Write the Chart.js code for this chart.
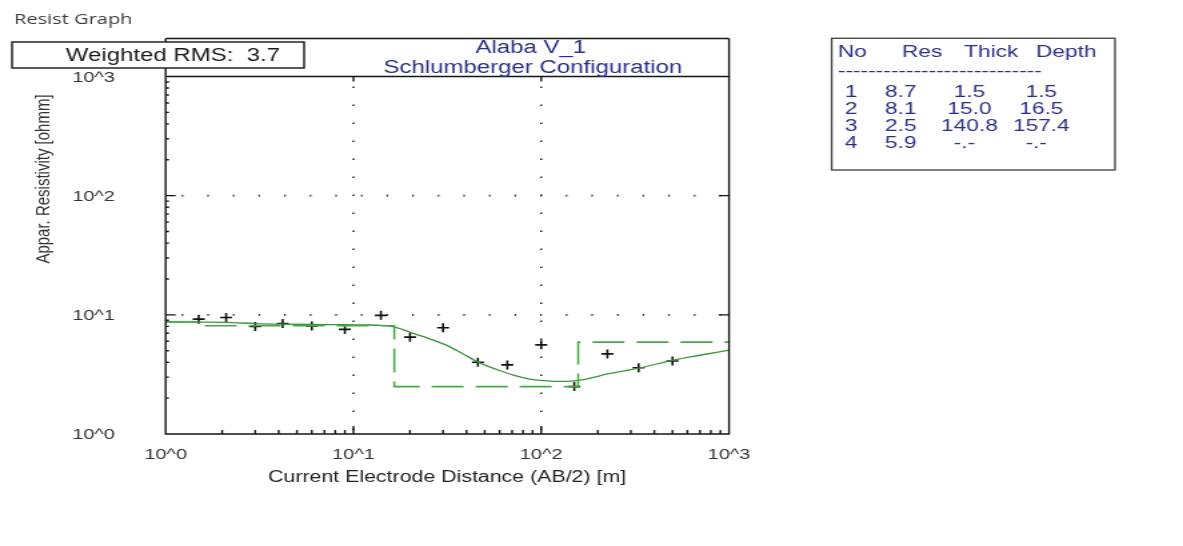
<!DOCTYPE html>
<html>
<head>
<meta charset="utf-8">
<title>Resist Graph</title>
<script src="https://cdn.jsdelivr.net/npm/chart.js@4.4.1/dist/chart.umd.min.js"></script>
<style>
html, body { margin: 0; padding: 0; background: #fff; overflow: hidden; }
#c { display: block; }
</style>
</head>
<body>
<canvas id="c" width="887" height="546" style="width:1183px;height:546px"></canvas>
<script>
// Field sounding: half current-electrode spacing AB/2 [m] and apparent resistivity [ohm·m]
const spacing     = [1.5, 2.1, 3, 4.2, 6, 9, 14, 20, 30, 46, 66, 100, 150, 225, 330, 500];
const apparentRes = [9.2, 9.5, 8.0, 8.45, 8.05, 7.55, 9.9, 6.5, 7.8, 4.0, 3.8, 5.6, 2.5, 4.7, 3.6, 4.1];

// Calculated response of the fitted layered model
const curveSpacing = [1, 1.5, 2.1, 3, 4.2, 6, 9, 12, 14, 16, 18, 21, 25, 31, 38, 47, 58, 71, 87, 107, 131, 161, 232, 336, 505, 698, 1000];
const curveRes     = [8.75, 8.7, 8.65, 8.45, 8.35, 8.3, 8.28, 8.22, 8.15, 8.0, 7.6, 6.95, 6.35, 5.6, 4.74, 3.95, 3.48, 3.12, 2.89, 2.79, 2.76, 2.83, 3.22, 3.59, 4.17, 4.58, 5.05];

// Layered earth model
const layerNo    = [1, 2, 3, 4];
const layerRes   = [8.7, 8.1, 2.5, 5.9];
const layerThick = [1.5, 15.0, 140.8, null];
const layerDepth = [1.5, 16.5, 157.4, null];

const rmsValue = 3.7;
const stationName = 'Alaba V_1';
const configName = 'Schlumberger Configuration';

// Axis range and decade labels
const axisMin = 1;
const axisMax = 1000;
const decadeLabels = ['10^0', '10^1', '10^2', '10^3'];

const FONT = '"Liberation Sans", Arial, Helvetica, sans-serif';
const NAVY = '#2b2f86';

// Step line of the layered model: resistivity held down to each layer bottom
const modelX = [axisMin, ...layerDepth.filter(d => d !== null), axisMax];
const modelY = [...layerRes, layerRes[layerRes.length - 1]];

const toPoints = (xs, ys) => xs.map((v, i) => ({ x: v, y: ys[i] }));

function decadeIndex(v) {
  const l = Math.log10(v);
  const r = Math.round(l);
  return Math.abs(l - r) < 1e-9 ? r : null;
}

const frameAndText = {
  id: 'frameAndText',
  beforeDatasetsDraw(chart) {
    const { ctx, chartArea: a, scales: { x, y } } = chart;
    ctx.save();
    // dotted decade grid
    for (let d = 1; d < decadeLabels.length - 1; d++) {
      const v = Math.pow(10, d);
      const px = x.getPixelForValue(v);
      ctx.strokeStyle = '#222';
      ctx.lineWidth = 1.5;
      ctx.setLineDash([1.5, 16.5]);
      ctx.beginPath();
      ctx.moveTo(px, a.bottom - 4); ctx.lineTo(px, a.top);
      ctx.stroke();
      const py = y.getPixelForValue(v);
      ctx.lineWidth = 1.6;
      ctx.setLineDash([1.2, 18]);
      ctx.beginPath();
      ctx.moveTo(a.left + 12, py); ctx.lineTo(a.right, py);
      ctx.stroke();
    }
    ctx.restore();
  },
  afterDraw(chart) {
    const { ctx, chartArea: a, scales: { x, y } } = chart;
    const frameTop = 38.5;
    ctx.save();

    // frame
    ctx.strokeStyle = '#151515';
    ctx.lineWidth = 1.4;
    ctx.beginPath();
    ctx.moveTo(a.left, frameTop); ctx.lineTo(a.right, frameTop);
    ctx.moveTo(a.left, frameTop); ctx.lineTo(a.left, a.bottom);
    ctx.lineTo(a.right, a.bottom); ctx.lineTo(a.right, frameTop);
    ctx.moveTo(a.left, a.top); ctx.lineTo(a.right, a.top);
    ctx.stroke();

    // tick marks
    ctx.beginPath();
    for (let d = 0; d < decadeLabels.length - 1; d++) {
      for (let k = 1; k <= 9; k++) {
        const v = k * Math.pow(10, d);
        const major = k === 1;
        if (major && d === 0) continue;
        const py = y.getPixelForValue(v);
        const px = x.getPixelForValue(v);
        ctx.moveTo(a.left, py); ctx.lineTo(a.left + (major ? 7.5 : 2.5), py);
        ctx.moveTo(px, a.bottom); ctx.lineTo(px, a.bottom - (major ? 8 : 4));
        if (major) {
          ctx.moveTo(a.right, py); ctx.lineTo(a.right - 7.5, py);
          ctx.moveTo(px, a.top); ctx.lineTo(px, a.top + 5);
        }
      }
    }
    ctx.stroke();

    // window caption
    ctx.fillStyle = '#3a3a3a';
    ctx.font = '15px "Open Sans", sans-serif';
    ctx.textBaseline = 'middle';
    ctx.textAlign = 'left';
    ctx.fillText('Resist Graph', 10.5, 20);

    // RMS box
    ctx.fillStyle = '#fff';
    ctx.fillRect(9, 42, 219, 26);
    ctx.strokeStyle = '#151515';
    ctx.strokeRect(9, 42, 219, 26);
    ctx.fillStyle = '#1a1a1a';
    ctx.font = '18px ' + FONT;
    ctx.textAlign = 'right';
    ctx.fillText('Weighted RMS:  ' + rmsValue.toFixed(1), 210, 56);

    // station title
    ctx.fillStyle = NAVY;
    ctx.textAlign = 'center';
    ctx.fillText(stationName, 398, 48);
    ctx.fillText(configName, 399.5, 68);

    // axis titles
    ctx.fillStyle = '#222';
    ctx.font = '16px ' + FONT;
    ctx.fillText('Current Electrode Distance (AB/2) [m]', 335.2, 478);
    ctx.save();
    ctx.fillStyle = '#333';
    ctx.font = '15px ' + FONT;
    ctx.translate(33, 179);
    ctx.rotate(-Math.PI / 2);
    ctx.fillText('Appar. Resistivity [ohmm]', 0, 0);
    ctx.restore();

    // layer table
    const tL = 623.6, tT = 38.3, tR = 836, tB = 170;
    ctx.strokeStyle = '#4a4a4a';
    ctx.lineWidth = 1.4;
    ctx.strokeRect(tL, tT, tR - tL, tB - tT);
    ctx.fillStyle = NAVY;
    ctx.font = '17px ' + FONT;
    ctx.textAlign = 'left';
    ctx.fillText('No', 628.3, 52.7);
    ctx.fillText('Res', 676.3, 52.7);
    ctx.fillText('Thick', 722.8, 52.7);
    ctx.fillText('Depth', 776.8, 52.7);
    ctx.fillText('-'.repeat(27), 628.3, 71);
    const fmt = v => (v === null ? '-.-' : v.toFixed(1)).padStart(5, ' ');
    layerNo.forEach((n, i) => {
      const ty = 92 + i * 17.2;
      ctx.fillText(String(n), 633.6, ty);
      ctx.fillText(layerRes[i].toFixed(1), 663.6, ty);
      ctx.fillText(fmt(layerThick[i]), 705.6, ty);
      ctx.fillText(fmt(layerDepth[i]), 759.5, ty);
    });

    ctx.restore();
  }
};

const logAxis = (extra) => Object.assign({
  type: 'logarithmic',
  min: axisMin,
  max: axisMax,
  grid: { display: false },
  border: { display: false },
  ticks: {
    autoSkip: false,
    maxRotation: 0,
    color: '#333',
    font: { family: FONT, size: 15 },
    callback: (v) => {
      const d = decadeIndex(v);
      return d === null ? '' : decadeLabels[d];
    }
  }
}, extra);

const xAxis = logAxis({ position: 'bottom', afterFit: s => { s.height = 112; } });
xAxis.ticks.padding = 4;
const yAxis = logAxis({ position: 'left', afterFit: s => { s.width = 124.2; } });
yAxis.ticks.padding = 30;
yAxis.ticks.labelOffset = 1;

new Chart(document.getElementById('c'), {
  type: 'scatter',
  data: {
    datasets: [
      {
        label: 'Layered model',
        data: toPoints(modelX, modelY),
        showLine: true,
        stepped: 'before',
        borderColor: '#4aa84a',
        borderWidth: 1.6,
        borderDash: [24, 9],
        pointRadius: 0,
        fill: false
      },
      {
        label: 'Model response',
        data: toPoints(curveSpacing, curveRes),
        showLine: true,
        cubicInterpolationMode: 'monotone',
        borderColor: '#3a963a',
        borderWidth: 1.3,
        pointRadius: 0,
        fill: false
      },
      {
        label: 'Measured',
        data: toPoints(spacing, apparentRes),
        showLine: false,
        pointStyle: 'cross',
        pointRadius: 4.5,
        pointBorderWidth: 1.6,
        pointBorderColor: '#111',
        pointBackgroundColor: '#111'
      }
    ]
  },
  options: {
    responsive: false,
    devicePixelRatio: 1,
    animation: false,
    layout: { padding: { left: 0, right: 340.4, top: 76.5, bottom: 0 } },
    plugins: { legend: { display: false }, tooltip: { enabled: false } },
    scales: { x: xAxis, y: yAxis }
  },
  plugins: [frameAndText]
});
</script>
</body>
</html>
